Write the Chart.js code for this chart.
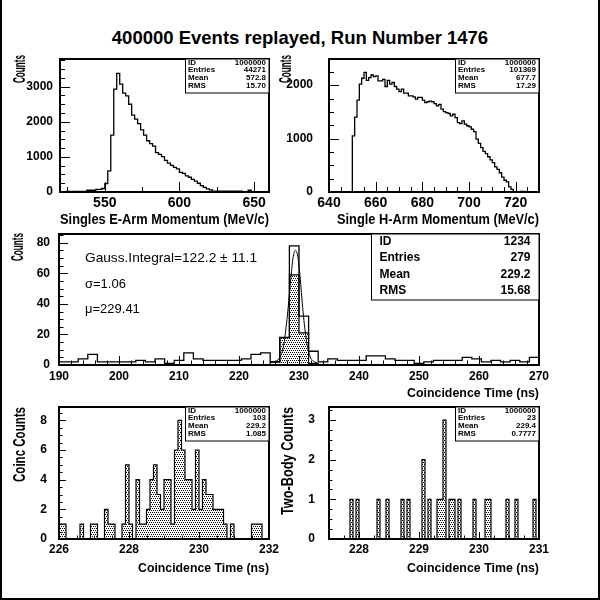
<!DOCTYPE html>
<html>
<head>
<meta charset="utf-8">
<script src="https://cdn.jsdelivr.net/npm/chart.js@4.4.1/dist/chart.umd.min.js"></script>
<style>
  html, body { margin: 0; padding: 0; background: #fff; }
  #page { position: relative; width: 600px; height: 600px; overflow: hidden; background: #fff; }
  #page canvas { position: absolute; left: 0; top: 0; pointer-events: none; }
  #title { position: absolute; left: 0; top: 28px; width: 600px; text-align: center; color: #000;
           font: bold 18.5px "Liberation Sans", Arial, sans-serif; line-height: 20px; }
  #edge { position: absolute; left: 0; top: 0; width: 596px; height: 598px;
          border: 2px solid #000; border-top: none; }
</style>
</head>
<body>
<div id="page">
  <div id="title">400000 Events replayed, Run Number 1476</div>
  <canvas id="eArm" width="600" height="600"></canvas>
  <canvas id="hArm" width="600" height="600"></canvas>
  <canvas id="coin" width="600" height="600"></canvas>
  <canvas id="window" width="600" height="600"></canvas>
  <canvas id="twoBody" width="600" height="600"></canvas>
  <div id="edge"></div>
</div>
<script>
// Singles E-arm momentum, 2 MeV/c bins from 520
const eArmStart = 520, eArmBin = 2;
const eArmCounts = [
  0, 0, 15, 15, 15, 15, 15, 15, 15,
  50, 50, 50, 75, 75, 100,
  240, 600, 1620, 2930, 3380, 3075, 2820, 2740, 2500, 2190,
  2075, 1950, 1770, 1620, 1460, 1380, 1310, 1120, 1070, 1010,
  900, 820, 760, 700, 660, 560, 530, 460, 420, 360,
  310, 250, 180, 130, 90, 60, 25, 25, 25, 25,
  25, 25, 25, 25, 25, 25, 0, 0, 50, 0,
  0, 0, 0, 0, 0
];
const eArmTicksX = [550, 600, 650];
const eArmTicksY = [0, 1000, 2000, 3000];
const eArmStats = [['ID', '1000000'], ['Entries', '44271'], ['Mean', '572.8'], ['RMS', '15.70']];

// Single H-arm momentum, 1 MeV/c bins from 640
const hArmStart = 640, hArmBin = 1;
const hArmCounts = [
  0, 0, 0, 0, 0, 0, 0, 0, 0, 0,
  1050, 1400, 1720, 2020, 2130, 2240, 2090, 2140, 2190, 2160,
  2175, 2080, 2080, 2110, 1975, 2090, 2020, 2050, 1975, 1925,
  1880, 1925, 1850, 1850, 1800, 1800, 1780, 1740, 1770, 1770,
  1720, 1675, 1690, 1700, 1690, 1656, 1612, 1640, 1550, 1506,
  1487, 1470, 1425, 1456, 1394, 1300, 1280, 1330, 1270, 1240,
  1220, 1175, 1130, 990, 910, 830, 760, 720, 660, 600,
  550, 470, 425, 360, 280, 220, 190, 95, 50, 0,
  0, 0, 10, 10, 0, 0, 0, 0, 0, 0
];
const hArmTicksX = [640, 660, 680, 700, 720];
const hArmTicksY = [0, 1000, 2000];
const hArmStats = [['ID', '1000000'], ['Entries', '101369'], ['Mean', '677.7'], ['RMS', '17.29']];

// Coincidence time, 1.6 ns bins from 190
const coinStart = 190, coinBin = 1.6;
const coinCounts = [
  2, 2, 4, 7, 2, 2, 2, 2, 3, 2,
  4, 1, 3, 8, 4, 3, 3, 3, 3, 4,
  7, 8, 2, 18, 78, 32, 9, 2, 4, 3,
  3, 3, 6, 6, 4, 3, 3, 1, 2, 3,
  3, 3, 5, 4, 2, 3, 2, 3, 2, 5
];
const coinPeakStart = 225.2;
const coinPeakCounts = [2, 18, 59, 21, 1];
const gaussX = [225.6, 226.2, 226.8, 227.4, 228.0, 228.6, 229.0, 229.4, 229.8, 230.2, 230.6, 231.2, 231.8, 232.4, 233.0];
const gaussY = [1.5, 2.5, 5, 12, 30, 55, 70, 75, 71, 57, 38, 17, 6, 2.5, 1.5];
const coinTicksX = [190, 200, 210, 220, 230, 240, 250, 260, 270];
const coinTicksY = [0, 20, 40, 60, 80];
const coinStats = [['ID', '1234'], ['Entries', '279'], ['Mean', '229.2'], ['RMS', '15.68']];
const coinNotes = ['Gauss.Integral=122.2 \u00b1 11.1', '\u03c3=1.06', '\u03bc=229.41'];

// Coincidence window, 0.1 ns bins from 226
const windowStart = 226, windowBin = 0.1;
const windowCounts = [
  1, 1, 0, 0, 0, 0, 1, 0, 0, 1,
  1, 0, 0, 2, 1, 1, 0, 0, 1, 5,
  1, 0, 4, 1, 1, 2, 4, 5, 3, 2,
  4, 4, 1, 6, 8, 6, 4, 4, 2, 6,
  2, 4, 3, 3, 2, 2, 2, 1, 0, 1,
  0, 0, 0, 0, 0, 1, 1, 1, 0, 0
];
const windowTicksX = [226, 228, 230, 232];
const windowTicksY = [0, 2, 4, 6, 8];
const windowStats = [['ID', '1000000'], ['Entries', '103'], ['Mean', '229.2'], ['RMS', '1.085']];

// Two-body events, 0.05 ns bins from 227.5
const twoBodyStart = 227.5, twoBodyBin = 0.05;
const twoBodyCounts = [
  0, 0, 0, 0, 0, 0, 0, 1, 0, 1,
  0, 0, 0, 0, 0, 0, 1, 0, 0, 1,
  0, 0, 0, 0, 1, 0, 1, 0, 0, 0,
  0, 2, 0, 1, 0, 0, 1, 1, 3, 0,
  1, 1, 0, 1, 0, 0, 0, 0, 1, 0,
  0, 0, 1, 1, 0, 0, 0, 0, 0, 1,
  0, 0, 1, 0, 0, 0, 0, 0, 1, 0
];
const twoBodyTicksX = [228, 229, 230, 231];
const twoBodyTicksY = [0, 1, 2, 3];
const twoBodyStats = [['ID', '1000000'], ['Entries', '23'], ['Mean', '229.4'], ['RMS', '0.7777']];

const FONT = '"Liberation Sans", Arial, sans-serif';

function histPoints(start, bin, counts) {
  const pts = [{ x: start, y: 0 }];
  counts.forEach((c, i) => pts.push({ x: start + i * bin, y: c }));
  const end = start + counts.length * bin;
  pts.push({ x: end, y: counts[counts.length - 1] });
  pts.push({ x: end, y: 0 });
  return pts;
}

function dotPattern() {
  const c = document.createElement('canvas');
  c.width = 4; c.height = 4;
  const g = c.getContext('2d');
  g.fillStyle = '#000';
  [[0, 0], [2, 0], [1, 2], [3, 2]].forEach(([px, py]) => g.fillRect(px, py, 1, 1));
  return g.createPattern(c, 'repeat');
}
const dots = dotPattern();

function innerTicks(scale, minor, major) {
  const out = [];
  const k0 = Math.ceil(scale.min / minor - 1e-6), k1 = Math.floor(scale.max / minor + 1e-6);
  for (let k = k0; k <= k1; k++) {
    const v = k * minor, r = v / major;
    out.push([v, Math.abs(r - Math.round(r)) < 1e-6]);
  }
  return out;
}

function squeezeText(ctx, txt, x, y, font, align, width, rotate) {
  ctx.save();
  ctx.font = font;
  ctx.textAlign = align;
  ctx.textBaseline = 'alphabetic';
  const sx = width ? width / ctx.measureText(txt).width : 1;
  ctx.translate(x, y);
  if (rotate) ctx.rotate(-Math.PI / 2);
  ctx.scale(sx, 1);
  ctx.fillText(txt, 0, 0);
  ctx.restore();
}

// ROOT-like frame: inner ticks, stats box, axis titles, notes
const rootFrame = {
  id: 'rootFrame',
  afterDatasetsDraw(chart, args, o) {
    const { ctx, chartArea: a, scales: { x, y } } = chart;
    ctx.save();
    ctx.strokeStyle = '#000';
    ctx.fillStyle = '#000';
    ctx.lineWidth = 1;
    ctx.beginPath();
    innerTicks(x, o.xMinor, o.xMajor).forEach(([v, major]) => {
      const px = Math.round(x.getPixelForValue(v)) + 0.5;
      ctx.moveTo(px, a.bottom);
      ctx.lineTo(px, a.bottom - (major ? o.tick[0] : o.tick[1]));
    });
    innerTicks(y, o.yMinor, o.yMajor).forEach(([v, major]) => {
      const py = Math.round(y.getPixelForValue(v)) + 0.5;
      ctx.moveTo(a.left, py);
      ctx.lineTo(a.left + (major ? o.tick[0] : o.tick[1]), py);
    });
    ctx.stroke();

    ctx.lineWidth = 2;
    ctx.strokeRect(a.left, a.top, a.right - a.left, a.bottom - a.top);

    const s = o.stats;
    const bx = a.right - s.w;
    ctx.fillStyle = '#fff';
    ctx.fillRect(bx, a.top, s.w, s.h);
    ctx.lineWidth = 1;
    ctx.strokeRect(bx + 0.5, a.top, s.w - 0.5, s.h);
    ctx.fillStyle = '#000';
    ctx.font = 'bold ' + s.size + 'px ' + FONT;
    ctx.textBaseline = 'middle';
    s.rows.forEach((r, i) => {
      const ty = a.top + s.first + i * s.pitch;
      ctx.textAlign = 'left';
      ctx.fillText(r[0], bx + s.pad, ty);
      ctx.textAlign = 'right';
      ctx.fillText(r[1], a.right - s.pad, ty);
    });

    const xt = o.xTitle;
    squeezeText(ctx, xt.text, a.right, a.bottom + xt.dy, 'bold ' + xt.size + 'px ' + FONT, 'right', xt.width);
    const yt = o.yTitle;
    squeezeText(ctx, yt.text, yt.x, a.top + yt.dy, 'bold ' + yt.size + 'px ' + FONT, 'right', yt.width, true);

    (o.notes || []).forEach(n => {
      squeezeText(ctx, n.text, a.left + n.dx, a.top + n.dy, n.size + 'px ' + FONT, 'left', n.width);
    });
    ctx.restore();
  }
};

function makePanel(id, p) {
  const f = p.frame;
  const tickFont = size => ({ family: FONT, size: size, weight: 'bold' });
  return new Chart(document.getElementById(id), {
    type: 'line',
    data: { datasets: p.datasets },
    options: {
      responsive: false,
      animation: false,
      events: [],
      layout: { padding: { left: f[0] - 50, top: f[1], right: 600 - f[2], bottom: 600 - f[3] - 30 } },
      elements: { point: { radius: 0 } },
      scales: {
        x: {
          type: 'linear', min: p.x[0], max: p.x[1], bounds: 'data',
          grid: { display: false, drawTicks: false }, border: { display: false },
          afterBuildTicks: s => { s.ticks = p.xTicks.map(v => ({ value: v })); },
          afterFit: s => { s.height = 30; },
          ticks: { autoSkip: false, maxRotation: 0, color: '#000', padding: p.xPad,
                   font: tickFont(p.xSize), callback: v => String(v) }
        },
        y: {
          type: 'linear', min: p.y[0], max: p.y[1], bounds: 'data',
          grid: { display: false, drawTicks: false }, border: { display: false },
          afterBuildTicks: s => { s.ticks = p.yTicks.map(v => ({ value: v })); },
          afterFit: s => { s.width = 50; },
          ticks: { autoSkip: false, color: '#000', padding: p.yPad,
                   font: tickFont(p.ySize), callback: v => String(v) }
        }
      },
      plugins: {
        legend: { display: false },
        tooltip: { enabled: false },
        rootFrame: p.root
      }
    },
    plugins: [rootFrame]
  });
}

// stepped 'before': horizontal at the bin value, then vertical at the next edge
const outline = (pts, w) => ({ data: pts, stepped: 'before', borderColor: '#000', borderWidth: w, fill: false });
const dotted = pts => ({ data: pts, stepped: 'before', borderColor: '#000', borderWidth: 1.2,
                         fill: 'origin', backgroundColor: dots });
const smallStats = rows => ({ rows: rows, w: 84, h: 34, size: 8, first: 3.6, pitch: 7.6, pad: 3 });

makePanel('eArm', {
  frame: [60, 59, 269, 192], x: [520, 660], y: [0, 3790],
  xTicks: eArmTicksX, yTicks: eArmTicksY, xSize: 14, ySize: 12, xPad: 3, yPad: 7,
  datasets: [outline(histPoints(eArmStart, eArmBin, eArmCounts), 1.3)],
  root: {
    xMinor: 25, xMajor: 50, yMinor: 250, yMajor: 1000, tick: [10, 5],
    stats: smallStats(eArmStats),
    xTitle: { text: 'Singles E-Arm Momentum (MeV/c)', size: 15, dy: 31.5, width: 209 },
    yTitle: { text: 'Counts', size: 17, x: 25, dy: -4, width: 28 }
  }
});

makePanel('hArm', {
  frame: [329, 59, 539, 192], x: [640, 730], y: [0, 2490],
  xTicks: hArmTicksX, yTicks: hArmTicksY, xSize: 14, ySize: 12, xPad: 3, yPad: 16,
  datasets: [outline(histPoints(hArmStart, hArmBin, hArmCounts), 1.3)],
  root: {
    xMinor: 5, xMajor: 20, yMinor: 250, yMajor: 1000, tick: [10, 5],
    stats: smallStats(hArmStats),
    xTitle: { text: 'Single H-Arm Momentum (MeV/c)', size: 15, dy: 31.5, width: 202 },
    yTitle: { text: 'Counts', size: 17, x: 291, dy: -4, width: 28 }
  }
});

makePanel('coin', {
  frame: [59, 234, 539, 365], x: [190, 270], y: [0, 85.8],
  xTicks: coinTicksX, yTicks: coinTicksY, xSize: 12, ySize: 12, xPad: 4, yPad: 9,
  datasets: [
    dotted(histPoints(coinPeakStart, coinBin, coinPeakCounts)),
    outline(histPoints(coinStart, coinBin, coinCounts), 1.3),
    { data: gaussX.map((v, i) => ({ x: v, y: gaussY[i] })), borderColor: '#000', borderWidth: 1,
      cubicInterpolationMode: 'monotone', fill: false }
  ],
  root: {
    xMinor: 2, xMajor: 10, yMinor: 5, yMajor: 20, tick: [9, 4.5],
    stats: { rows: coinStats, w: 168, h: 66, size: 12, first: 7.8, pitch: 16.3, pad: 8.5 },
    xTitle: { text: 'Coincidence Time (ns)', size: 13, dy: 32.3, width: 132 },
    yTitle: { text: 'Counts', size: 17, x: 23, dy: -1, width: 28 },
    notes: [
      { text: coinNotes[0], size: 13, dx: 26, dy: 27.8, width: 172 },
      { text: coinNotes[1], size: 13, dx: 26, dy: 53.8 },
      { text: coinNotes[2], size: 13, dx: 26, dy: 78.8 }
    ]
  }
});

makePanel('window', {
  frame: [59, 407, 269, 539], x: [226, 232], y: [0, 8.9],
  xTicks: windowTicksX, yTicks: windowTicksY, xSize: 12, ySize: 12, xPad: 3, yPad: 12,
  datasets: [dotted(histPoints(windowStart, windowBin, windowCounts))],
  root: {
    xMinor: 0.5, xMajor: 2, yMinor: 0.5, yMajor: 2, tick: [7, 3.5],
    stats: smallStats(windowStats),
    xTitle: { text: 'Coincidence Time (ns)', size: 13, dy: 32.7, width: 131 },
    yTitle: { text: 'Coinc Counts', size: 17, x: 25, dy: 0, width: 75 }
  }
});

makePanel('twoBody', {
  frame: [329, 407, 539, 539], x: [227.5, 231], y: [0, 3.33],
  xTicks: twoBodyTicksX, yTicks: twoBodyTicksY, xSize: 12, ySize: 12, xPad: 3, yPad: 14,
  datasets: [dotted(histPoints(twoBodyStart, twoBodyBin, twoBodyCounts))],
  root: {
    xMinor: 0.25, xMajor: 1, yMinor: 0.25, yMajor: 1, tick: [7, 3.5],
    stats: smallStats(twoBodyStats),
    xTitle: { text: 'Coincidence Time (ns)', size: 13, dy: 32.7, width: 132 },
    yTitle: { text: 'Two-Body Counts', size: 17, x: 293, dy: 0, width: 108 }
  }
});
</script>
</body>
</html>
